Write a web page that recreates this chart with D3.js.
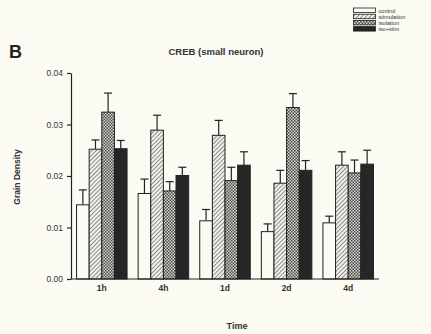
<!DOCTYPE html>
<html><head><meta charset="utf-8">
<script src="https://cdn.jsdelivr.net/npm/d3@7"></script>
<style>body{margin:0;background:#fbfaf3;} svg{display:block;}</style>
</head><body>
<svg id="c" width="431" height="334"></svg>
<script>
const categories = ["1h","4h","1d","2d","4d"];
const seriesNames = ["control","stimulation","isolation","iso+stim"];
const control     = [0.0144,0.0166,0.0113,0.0092,0.0109];
const stimulation = [0.0252,0.0289,0.0279,0.0186,0.0221];
const isolation   = [0.0324,0.0171,0.0191,0.0333,0.0206];
const isoStim     = [0.0253,0.0201,0.0221,0.0211,0.0223];
const controlErr     = [0.0029,0.0028,0.0022,0.0015,0.0013];
const stimulationErr = [0.0018,0.0029,0.0029,0.0025,0.0026];
const isolationErr   = [0.0037,0.0018,0.0026,0.0027,0.0025];
const isoStimErr     = [0.0016,0.0016,0.0026,0.0019,0.0027];
const yTicks = [0,0.01,0.02,0.03,0.04];

const values = [control, stimulation, isolation, isoStim];
const errs = [controlErr, stimulationErr, isolationErr, isoStimErr];

const svg = d3.select("#c");
const defs = svg.append("defs");
const hatch = defs.append("pattern").attr("id","hatch").attr("patternUnits","userSpaceOnUse")
  .attr("width",3).attr("height",3).attr("patternTransform","rotate(45)");
hatch.append("rect").attr("width",3).attr("height",3).attr("fill","#f2f1ea");
hatch.append("line").attr("x1",0).attr("y1",0).attr("x2",0).attr("y2",3).attr("stroke","#555").attr("stroke-width",1.3);
const check = defs.append("pattern").attr("id","check").attr("patternUnits","userSpaceOnUse")
  .attr("width",3).attr("height",3);
check.append("rect").attr("width",3).attr("height",3).attr("fill","#d4d3cc");
check.append("rect").attr("width",1.5).attr("height",1.5).attr("fill","#4a4a4a");
check.append("rect").attr("x",1.5).attr("y",1.5).attr("width",1.5).attr("height",1.5).attr("fill","#4a4a4a");

const fills = ["#fbfaf3","url(#hatch)","url(#check)","#262626"];

const x0 = d3.scaleBand().domain(categories).range([71,379]).paddingInner(0.18).paddingOuter(0.09);
const x1 = d3.scaleBand().domain(seriesNames).range([0,x0.bandwidth()]);
const y = d3.scaleLinear().domain([0,0.04]).range([279,73]);

const textCol = "#333";

// bars
const g = svg.append("g");
categories.forEach((c,i)=>{
  seriesNames.forEach((s,j)=>{
    const v = values[j][i], e = errs[j][i];
    const bx = x0(c)+x1(s), bw = x1.bandwidth();
    const cx = bx + bw/2;
    g.append("line").attr("x1",cx).attr("x2",cx).attr("y1",y(v)).attr("y2",y(v+e))
      .attr("stroke","#222").attr("stroke-width",1.2);
    g.append("line").attr("x1",cx-4).attr("x2",cx+4).attr("y1",y(v+e)).attr("y2",y(v+e))
      .attr("stroke","#222").attr("stroke-width",1.2);
    g.append("rect").attr("x",bx).attr("y",y(v)).attr("width",bw).attr("height",y(0)-y(v))
      .attr("fill",fills[j]).attr("stroke","#222").attr("stroke-width",1);
  });
});

// axes
const yAxis = svg.append("g").attr("transform","translate(71,0)")
  .call(d3.axisLeft(y).tickValues(yTicks).tickFormat(d3.format(".2f")).tickSize(4).tickSizeOuter(0));
const xAxis = svg.append("g").attr("transform","translate(0,279)")
  .call(d3.axisBottom(x0).tickSize(0).tickSizeOuter(0));
[yAxis,xAxis].forEach(a=>{
  a.select(".domain").attr("stroke","#222").attr("stroke-width",1.2);
  a.selectAll(".tick line").attr("stroke","#222").attr("stroke-width",1.2);
  a.selectAll("text").attr("fill",textCol).attr("font-family","Liberation Sans, Arial, sans-serif").attr("font-size",8.5);
});
yAxis.selectAll("text").attr("dx",-1);
xAxis.selectAll("text").attr("dy","1.1em").attr("font-weight","bold");
xAxis.select(".domain").attr("d","M71,0H379");

// labels
const font = "Liberation Sans, Arial, sans-serif";
svg.append("text").attr("x",216).attr("y",55).attr("text-anchor","middle").attr("font-family",font)
  .attr("font-weight","bold").attr("font-size",9.5).attr("fill",textCol).text("CREB (small neuron)");
svg.append("text").attr("x",9).attr("y",58).attr("font-family",font).attr("font-weight","bold")
  .attr("font-size",18).attr("fill","#222").text("B");
svg.append("text").attr("transform","translate(20,177) rotate(-90)").attr("text-anchor","middle")
  .attr("font-family",font).attr("font-weight","bold").attr("font-size",8.5).attr("fill",textCol).text("Grain Density");
svg.append("text").attr("x",237).attr("y",329).attr("text-anchor","middle").attr("font-family",font)
  .attr("font-weight","bold").attr("font-size",9).attr("fill",textCol).text("Time");

// legend
const lg = svg.append("g");
seriesNames.forEach((s,j)=>{
  const yy = 8 + j*6.2;
  lg.append("rect").attr("x",353.5).attr("y",yy).attr("width",22).attr("height",4.5)
    .attr("fill",fills[j]).attr("stroke","#222").attr("stroke-width",0.8);
  lg.append("text").attr("x",378.5).attr("y",yy+4.6).attr("font-family",font).attr("font-size",5.6)
    .attr("fill",textCol).text(s);
});
</script>
</body></html>
